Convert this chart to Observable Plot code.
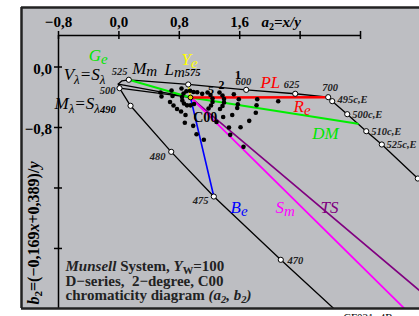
<!DOCTYPE html>
<html><head><meta charset="utf-8">
<script src="https://cdn.jsdelivr.net/npm/d3@7"></script>
<script src="https://cdn.jsdelivr.net/npm/@observablehq/plot@0.6"></script>
<style>body{margin:0;background:#fff} svg{display:block}</style>
</head><body><div id="chart"></div>
<script>
// ---- axes ----
const xTicks = [-0.8, 0, 0.8, 1.6, 2.4, 3.2];
const xTickLabels = ["−0,8", "0,0", "0,8", "1,6", "", ""];
const yTicks = [0, -0.8, -1.6, -2.4];
const yTickLabels = ["0,0", "−0,8", "", ""];
const axisTop = 0.417;
const axisLeft = -0.8;
const xDomain = [-1.290, 3.981];
const yDomain = [-3.194, 0.787];

// ---- spectral locus (a2, b2) ----
const locusWave = ["700","625","600","575","525","520","510","500","490","480","475","470","465"];
const locusA = [2.772, 2.335, 1.686, 0.918, 0.131, 0.041, -0.008, 0.008, 0.154, 0.693, 1.257, 2.144, 3.163];
const locusB = [-0.399, -0.354, -0.302, -0.231, -0.169, -0.183, -0.225, -0.280, -0.513, -1.122, -1.713, -2.550, -3.486];
const locusMarked = [1,1,1,1,1,0,0,1,1,1,1,1,0];

// ---- complementary locus ----
const complWave = ["700","495c","500c","510c","525c","550c","570c"];
const complA = [2.772, 2.825, 3.024, 3.276, 3.482, 3.959, 4.260];
const complB = [-0.399, -0.452, -0.624, -0.849, -1.025, -1.475, -1.753];
const complMarked = [0,1,1,1,1,1,0];

// ---- centre C00 ----
const centerA = 0.948, centerB = -0.403;

// ---- coloured lines ----
const greenA = [0.131, centerA, 3.164], greenB = [-0.169, centerB, -0.751];
const redA = [centerA, 2.772], redB = [centerB, -0.399];
const yellowA = [0.918, centerA], yellowB = [-0.231, centerB];
const blueA = [centerA, 1.257], blueB = [centerB, -1.713];
const magentaA = [centerA, 4.127], magentaB = [centerB, -3.535];
const purpleA = [centerA, 4.392], purpleB = [centerB, -3.303];
const blackLinkA = [[-0.008, centerA], [0.008, centerA]];
const blackLinkB = [[-0.225, centerB], [-0.280, centerB]];

// ---- Munsell sample points ----
const dotA = [0.551,0.564,0.697,0.710,0.677,0.723,0.770,0.823,0.882,0.873,0.984,1.028,1.125,0.829,1.037,1.103,
  0.988,0.942,0.893,0.856,0.836,0.840,0.862,0.902,0.948,0.995,
  1.174,1.213,1.240,1.240,1.220,1.187,
  1.332,1.372,1.392,1.392,1.372,1.339,
  1.522,1.588,1.575,1.567,1.501,1.381,1.293,1.458,1.474,
  1.832,1.823,1.813,1.726,1.611,1.650,2.110];
const dotB = [-0.337,-0.390,-0.311,-0.384,-0.463,-0.509,-0.556,-0.589,-0.635,-0.738,-0.778,-0.889,-0.963,-0.284,-0.333,-0.355,
  -0.331,-0.314,-0.321,-0.351,-0.397,-0.443,-0.483,-0.507,-0.507,-0.489,
  -0.337,-0.370,-0.417,-0.463,-0.509,-0.549,
  -0.337,-0.377,-0.423,-0.470,-0.516,-0.556,
  -0.360,-0.426,-0.492,-0.542,-0.635,-0.661,-0.728,-0.800,-0.897,
  -0.426,-0.505,-0.606,-0.712,-0.796,-1.056,-0.452];

// ---- wavelength labels ----
const wlEndText = ["525","500","480","475"];
const wlEndA = [0.114, -0.045, 0.617, 1.187];
const wlEndB = [-0.112, -0.351, -1.224, -1.806];
const wlStartText = ["470","600","625","700","495c,E","500c,E","510c,E","525c,E"];
const wlStartA = [2.233, 1.544, 2.184, 2.692, 2.895, 3.090, 3.342, 3.544];
const wlStartB = [-2.599, -0.238, -0.284, -0.311, -0.470, -0.668, -0.893, -1.065];

// ---- big italic labels ----
const labText = ["Ge","Ye","Mm","Lm575","Vλ=Sλ","Mλ=Sλ490","PL","Re","DM","Be","Sm","TS"];
const labA = [-0.399, 0.829, 0.176, 0.604, -0.731, -0.853, 1.875, 2.313, 2.560, 1.478, 2.074, 2.670];
const labB = [0.086, 0.033, -0.090, -0.112, -0.172, -0.549, -0.284, -0.589, -0.946, -1.925, -1.925, -1.925];
const labColor = ["#00e600","#ffff00","#000","#000","#000","#000","#ff0000","#ff0000","#00e600","#0000ff","#ff00ff","#800080"];

// ---- small upright labels ----
const numText = ["1","5","2"];
const numA = [1.577, 1.220, 1.359];
const numB = [-0.159, -0.351, -0.291];
const numSize = [13, 12, 12];

const titleLines = ["Munsell System, YW=100", "D−series,\u00a0 2−degree, C00", "chromaticity diagram (a2, b2)"];
const titleA = -0.707;
const titleB = [-2.692, -2.890, -3.076];

const pts = (A, B) => A.map((a, i) => ({a, b: B[i]}));
const locus = locusA.map((a, i) => ({a, b: locusB[i], w: locusWave[i], m: locusMarked[i]}));
const compl = complA.map((a, i) => ({a, b: complB[i], w: complWave[i], m: complMarked[i]}));
const links = blackLinkA.flatMap((A, k) => A.map((a, i) => ({a, b: blackLinkB[k][i], k})));
const markers = [...locus.filter(d => d.m), ...compl.filter(d => d.m)];
const lab = labText.map((t, i) => ({t, a: labA[i], b: labB[i], c: labColor[i]}));

const F = "Liberation Serif";
const lineOpt = (stroke, w) => ({x: "a", y: "b", stroke, strokeWidth: w, clip: true});

const chart = Plot.plot({
  width: 419, height: 316,
  marginLeft: 21, marginRight: 0, marginTop: 7, marginBottom: 8,
  x: {domain: xDomain, axis: null},
  y: {domain: yDomain, axis: null},
  color: {type: "identity"},
  style: {fontFamily: F, background: "white", overflow: "visible"},
  marks: [
    Plot.frame({fill: "#bdbec2", stroke: "none"}),
    // axes
    Plot.ruleY([axisTop], {x1: () => -0.8, x2: () => 3.2, stroke: "#000", strokeWidth: 1.5}),
    Plot.ruleX([axisLeft], {y1: () => yDomain[0], y2: () => axisTop, stroke: "#000", strokeWidth: 1.5}),
    Plot.ruleX(xTicks, {x: d => d, y1: () => axisTop - 0.053, y2: () => axisTop + 0.053, stroke: "#000", strokeWidth: 1.5}),
    Plot.ruleY(yTicks, {y: d => d, x1: () => axisLeft - 0.053, x2: () => axisLeft + 0.053, stroke: "#000", strokeWidth: 1.5}),
    Plot.text(xTicks, {x: d => d, y: () => axisTop, text: (d, i) => xTickLabels[i], dy: -8, lineAnchor: "bottom", fontSize: 15, fontWeight: "bold"}),
    Plot.text(yTicks, {x: () => axisLeft, y: d => d, text: (d, i) => yTickLabels[i], textAnchor: "end", dx: -6.5, dy: 6.5, lineAnchor: "bottom", fontSize: 15, fontWeight: "bold"}),
    Plot.text(["a2=x/y"], {x: () => 1.889, y: () => 0.5225, text: d => d, textAnchor: "start", lineAnchor: "bottom", fontSize: 15, fontWeight: "bold"}),
    Plot.text(["b2=(−0,169x+0,389)/y"], {x: () => -1.058, y: () => -3.142, text: d => d, rotate: -90, textAnchor: "start", lineAnchor: "bottom", fontSize: 16, fontWeight: "bold"}),
    // loci
    Plot.line(locus, lineOpt("#000", 1.3)),
    Plot.line(compl, lineOpt("#000", 1.3)),
    Plot.line(links, {x: "a", y: "b", z: "k", stroke: "#000", strokeWidth: 1.3, clip: true}),
    // coloured lines
    Plot.line(pts(purpleA, purpleB), lineOpt("#800080", 1.6)),
    Plot.line(pts(magentaA, magentaB), lineOpt("#ff00ff", 1.8)),
    Plot.line(pts(blueA, blueB), lineOpt("#0000ff", 1.6)),
    Plot.line(pts(greenA, greenB), lineOpt("#00ee00", 2)),
    Plot.line(pts(redA, redB), lineOpt("#ff0000", 2.5)),
    Plot.line(pts(yellowA, yellowB), lineOpt("#ffff00", 1.6)),
    // samples
    Plot.dot(pts(dotA, dotB), {x: "a", y: "b", r: 2.3, fill: "#000", stroke: "none"}),
    Plot.dot([0], {x: () => centerA, y: () => centerB, r: 2.4, fill: "#d8d800", stroke: "#000", strokeWidth: 1}),
    Plot.dot(markers, {x: "a", y: "b", r: 2.6, fill: "#fff", stroke: "#000", strokeWidth: 1}),
    // labels
    Plot.text(wlEndText, {x: (d, i) => wlEndA[i], y: (d, i) => wlEndB[i], text: d => d, textAnchor: "end", lineAnchor: "bottom", fontSize: 10.5, fontWeight: "bold", fontStyle: "italic", fill: "#222"}),
    Plot.text(wlStartText, {x: (d, i) => wlStartA[i], y: (d, i) => wlStartB[i], text: d => d, textAnchor: "start", lineAnchor: "bottom", fontSize: 10.5, fontWeight: "bold", fontStyle: "italic", fill: "#222"}),
    Plot.text(lab, {x: "a", y: "b", text: "t", fill: "c", textAnchor: "start", lineAnchor: "bottom", fontSize: 17, fontStyle: "italic"}),
    Plot.text(numText, {x: (d, i) => numA[i], y: (d, i) => numB[i], text: d => d, fontSize: (d, i) => numSize[i], textAnchor: "middle", lineAnchor: "bottom", fontWeight: "bold"}),
    Plot.text(["C00"], {x: () => 0.984, y: () => -0.721, text: d => d, textAnchor: "start", lineAnchor: "bottom", fontSize: 14, fontWeight: "bold"}),
    Plot.text(titleLines, {x: () => titleA, y: (d, i) => titleB[i], text: d => d, textAnchor: "start", lineAnchor: "bottom", fontSize: 15, fontWeight: "bold", fill: "#222"}),
    Plot.text(["CF021−4B"], {x: () => 2.975, y: () => -3.353, text: d => d, textAnchor: "start", lineAnchor: "bottom", fontSize: 11}),
    // border
    Plot.ruleX([xDomain[0]], {stroke: "#222", strokeWidth: 2.5}),
    Plot.ruleY([yDomain[0], yDomain[1]], {stroke: "#222", strokeWidth: 2.5})
  ]
});

const sub = (t, size, dy, extra = "") => `<tspan font-size="${size}" dy="${dy}"${extra}>${t}</tspan>`;
const rich = {
  "a2=x/y": `<tspan font-style="italic">a</tspan>${sub("2", 10, 3)}<tspan dy="-3" font-style="italic">=x/y</tspan>`,
  "b2=(−0,169x+0,389)/y": `<tspan font-style="italic">b</tspan>${sub("2", 11, 3)}<tspan dy="-3">=(−0,169</tspan><tspan font-style="italic">x</tspan>+0,389)/<tspan font-style="italic">y</tspan>`,
  "Vλ=Sλ": `V${sub("λ", 13, 4)}<tspan dy="-4">=S</tspan>${sub("λ", 13, 4)}`,
  "Mλ=Sλ490": `M${sub("λ", 13, 4)}<tspan dy="-4">=S</tspan>${sub("λ", 13, 4)}<tspan font-size="10.5" font-weight="bold">490</tspan>`,
  "Mm": `M${sub("m", 15, 2)}`,
  "Lm575": `L${sub("m", 15, 2)}<tspan font-size="10.5" font-weight="bold" dy="-1">575</tspan>`,
  "Ge": `G${sub("e", 15, 3)}`,
  "Ye": `Y${sub("e", 15, 3)}`,
  "Re": `R${sub("e", 15, 3)}`,
  "Be": `B${sub("e", 15, 3)}`,
  "Sm": `S${sub("m", 15, 3)}`,
  "Munsell System, YW=100": `<tspan font-style="italic">Munsell</tspan> System, <tspan font-style="italic">Y</tspan>${sub("W", 10.5, 3)}<tspan dy="-3">=100</tspan>`,
  "chromaticity diagram (a2, b2)": `chromaticity diagram <tspan font-style="italic">(a</tspan>${sub("2", 10.5, 3, ' font-style="italic"')}<tspan dy="-3" font-style="italic">, b</tspan>${sub("2", 10.5, 3, ' font-style="italic"')}<tspan dy="-3" font-style="italic">)</tspan>`
};
chart.querySelectorAll("text").forEach(t => { const h = rich[t.textContent]; if (h) t.innerHTML = h; });
document.getElementById("chart").appendChild(chart);
</script>
</body></html>
